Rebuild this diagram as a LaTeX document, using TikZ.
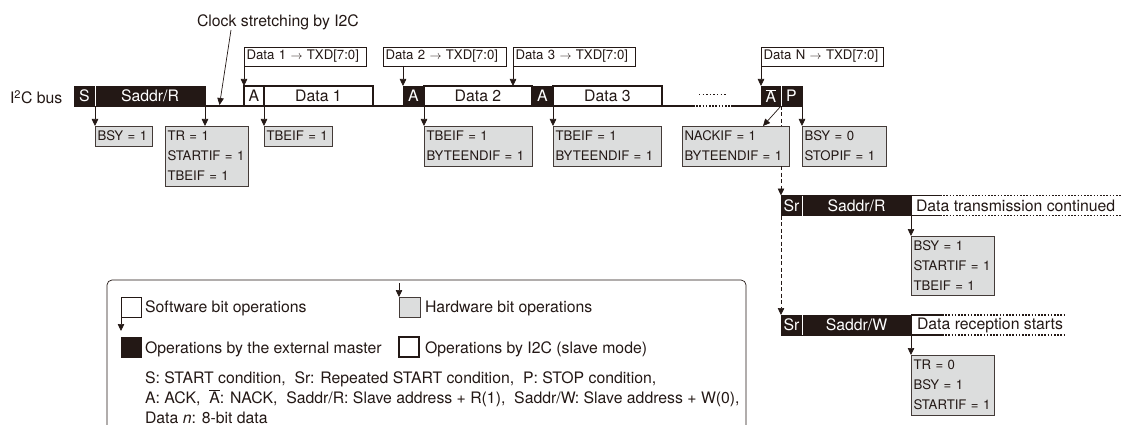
\documentclass[tikz,border=0pt]{standalone}
\usepackage{fontspec}
\setmainfont{TeX Gyre Heros}
\usetikzlibrary{arrows.meta}
\definecolor{ink}{HTML}{231815}
\definecolor{hwgray}{HTML}{DCDDDD}
\tikzset{
  every node/.style={text=ink,font=\fontsize{15.8}{20}\selectfont},
  cellbase/.style n args={3}{anchor=north west,inner sep=0pt,outer sep=0pt,minimum width=#1pt,minimum height=#2pt,#3},
  dark/.style 2 args={cellbase={#1}{#2}{fill=ink,draw=ink,line width=0.6pt,text=white}},
  slave/.style 2 args={cellbase={#1}{#2}{fill=white,draw=ink,line width=1.6pt}},
  sw/.style={anchor=north west,inner sep=0pt,outer sep=0pt,inner xsep=2.5pt,text width=#1pt-5pt,align=left,minimum height=19pt,fill=white,draw=ink,line width=0.7pt,font=\fontsize{13.2}{20}\selectfont},
  hw/.style 2 args={anchor=north west,inner sep=0pt,outer sep=0pt,inner xsep=2.5pt,text width=#1pt-5pt,align=left,minimum height=#2pt,fill=hwgray,draw=ink!85,line width=0.8pt,font=\fontsize{13.2}{20}\selectfont},
  arr/.style={draw=ink,line width=0.7pt,-{Triangle[length=7pt,width=6.5pt]}},
  dashline/.style={draw=ink,line width=0.7pt,dash pattern=on 4pt off 2.5pt},
  dasharr/.style={arr,dash pattern=on 4pt off 2.5pt},
  busline/.style={draw=ink,line width=1.6pt},
  dots/.style={draw=ink,line width=1.6pt,dash pattern=on 1.6pt off 1.6pt},
  divider/.style={draw=white,line width=0.7pt},
  txt/.style={inner sep=0pt,outer sep=0pt,anchor=west},
}
\begin{document}
\begin{tikzpicture}[x=1pt,y=-1pt]
\useasboundingbox (0,0) rectangle (1126,425);
% bus line pieces
\node[txt] (buslabel) at (10,97) {I\textsuperscript{2}C bus};
\node[dark={21}{20}] (s) at (74,86) {S};
\node[dark={110}{20}] (saddr) at (95,86) {Saddr/R};
\node[slave={20}{20}] (a1) at (244,86) {A};
\node[slave={109}{20}] (d1) at (264,86) {Data 1};
\node[dark={21}{20}] (a2) at (403,86) {A};
\node[slave={108}{20}] (d2) at (424,86) {Data 2};
\node[dark={21}{20}] (a3) at (532,86) {A};
\node[slave={109}{20}] (d3) at (553,86) {Data 3};
\node[dark={20}{20}] (an) at (761,86) {$\overline{\mbox{A}}$};
\node[dark={21}{20}] (p) at (781,86) {P};
\draw[divider] (s.north east) -- (s.south east);
\draw[divider] (an.north east) -- (an.south east);
\draw[busline] (saddr.south east) -- (a1.south west);
\draw[busline] (d1.south east) -- (a2.south west);
\coordinate (dotsa) at (693,106);
\coordinate (dotsb) at (732,106);
\draw[busline] (d3.south east) -- (dotsa);
\draw[dots] (dotsa) -- (dotsb);
\draw[busline] (dotsb) -- (an.south west);
\coordinate (upa) at (699,95);
\coordinate (upb) at (727,95);
\draw[draw=ink,line width=1pt,dash pattern=on 1.4pt off 2.2pt] (upa) -- (upb);
% software labels
\node[sw=122] (l1) at (244,47) {Data~1~$\to$~TXD[7:0]};
\node[sw=123] (l2) at (383,47) {Data~2~$\to$~TXD[7:0]};
\node[sw=122] (l3) at (513,47) {Data~3~$\to$~TXD[7:0]};
\node[sw=122] (ln) at (761,47) {Data~N~$\to$~TXD[7:0]};
\draw[arr] (l1.south west) -- (a1.north west);
\draw[arr] (l2.south west -| a2.north west) -- (a2.north west);
\draw[arr] (l3.south west) -- (l3.south west |- d2.north);
\draw[arr] (ln.south west) -- (an.north west);
% clock stretching
\node[txt] (clock) at (197,22) {Clock stretching by I2C};
\coordinate (clockend) at (219.5,105);
\draw[arr] (231,30) -- (clockend);
% hardware boxes
\node[hw={57}{20}] (h1) at (95,126) {BSY~=~1};
\node[hw={83}{60}] (h2) at (165,126) {TR~=~1\\STARTIF~=~1\\TBEIF~=~1};
\node[hw={68}{20}] (h3) at (264,126) {TBEIF~=~1};
\node[hw={108}{40}] (h4) at (424,126) {TBEIF~=~1\\BYTEENDIF~=~1};
\node[hw={108}{40}] (h5) at (553,126) {TBEIF~=~1\\BYTEENDIF~=~1};
\node[hw={107}{40}] (h6) at (682,126) {NACKIF~=~1\\BYTEENDIF~=~1};
\node[hw={84}{40}] (h7) at (802,126) {BSY~=~0\\STOPIF~=~1};
\draw[arr] (saddr.south west) -- (h1.north west);
\draw[arr] (saddr.south east) -- (saddr.south east |- h2.north);
\draw[arr] (d1.south west) -- (h3.north west);
\draw[arr] (d2.south west) -- (h4.north west);
\draw[arr] (d3.south west) -- (h5.north west);
\coordinate (nacktip) at (763,126);
\draw[arr] (p.south west) -- (nacktip);
\draw[arr] (p.south east) -- (h7.north west);
% repeated start, read
\node[dark={21}{20}] (sr1) at (781,195.5) {Sr};
\node[dark={109}{20}] (sa1) at (802,195.5) {Saddr/R};
\draw[divider] (sr1.north east) -- (sr1.south east);
\draw[dashline] (p.south west) -- (p.south west |- h6.north);
\draw[dasharr] (p.south west |- h6.south) -- (sr1.north west);
\node[txt] (cont) at (916,206) {Data transmission continued};
\coordinate (c1a) at (940,195.5);
\coordinate (c1b) at (940,215.5);
\coordinate (c1c) at (1122,195.5);
\coordinate (c1d) at (1122,215.5);
\draw[busline] (sa1.north east) -- (c1a);
\draw[busline] (sa1.south east) -- (c1b);
\draw[dots] (c1a) -- (c1c);
\draw[dots] (c1b) -- (c1d);
\node[hw={83}{59}] (h8) at (911,236) {BSY~=~1\\STARTIF~=~1\\TBEIF~=~1};
\draw[arr] (sa1.south east) -- (h8.north west);
% repeated start, write
\node[dark={21}{20}] (sr2) at (781,315) {Sr};
\node[dark={109}{20}] (sa2) at (802,315) {Saddr/W};
\draw[divider] (sr2.north east) -- (sr2.south east);
\draw[dasharr] (sr1.south west) -- (sr2.north west);
\node[txt] (recv) at (917,325.5) {Data reception starts};
\coordinate (c2a) at (942,315);
\coordinate (c2b) at (942,335);
\coordinate (c2c) at (1066,315);
\coordinate (c2d) at (1066,335);
\draw[busline] (sa2.north east) -- (c2a);
\draw[busline] (sa2.south east) -- (c2b);
\draw[dots] (c2a) -- (c2c);
\draw[dots] (c2b) -- (c2d);
\node[hw={83}{60}] (h9) at (911,355) {TR~=~0\\BSY~=~1\\STARTIF~=~1};
\draw[arr] (sa2.south east) -- (h9.north west);
% legend
\draw[draw=ink,line width=0.7pt,rounded corners=5pt] (107,426) -- (107,280) -- (746,280) -- (746,426);
\node[sw=20,minimum height=20pt] (ksw) at (121,297) {};
\node[txt] (tsw) at (145,308) {Software bit operations};
\coordinate (kswtip) at (121,331);
\draw[arr] (ksw.south west) -- (kswtip);
\node[hw={21}{20}] (khw) at (399,297) {};
\coordinate (khwtail) at (399,283);
\draw[arr] (khwtail) -- (khw.north west);
\node[txt] (thw) at (425,308) {Hardware bit operations};
\node[dark={20}{20}] (kmaster) at (121,337) {};
\node[txt] (tmaster) at (145,349) {Operations by the external master};
\node[slave={20}{20}] (kslave) at (399,337) {};
\node[txt] (tslave) at (425,349) {Operations by I2C (slave mode)};
\node[txt] (n1) at (145,379) {S: START condition,\ \ Sr: Repeated START condition,\ \ P: STOP condition,};
\node[txt] (n2) at (145,398.5) {A: ACK,\ \ $\overline{\mbox{A}}$: NACK,\ \ Saddr/R: Slave address + R(1),\ \ Saddr/W: Slave address + W(0),};
\node[txt] (n3) at (145,418) {Data \textit{n}: 8-bit data};
\end{tikzpicture}
\end{document}
